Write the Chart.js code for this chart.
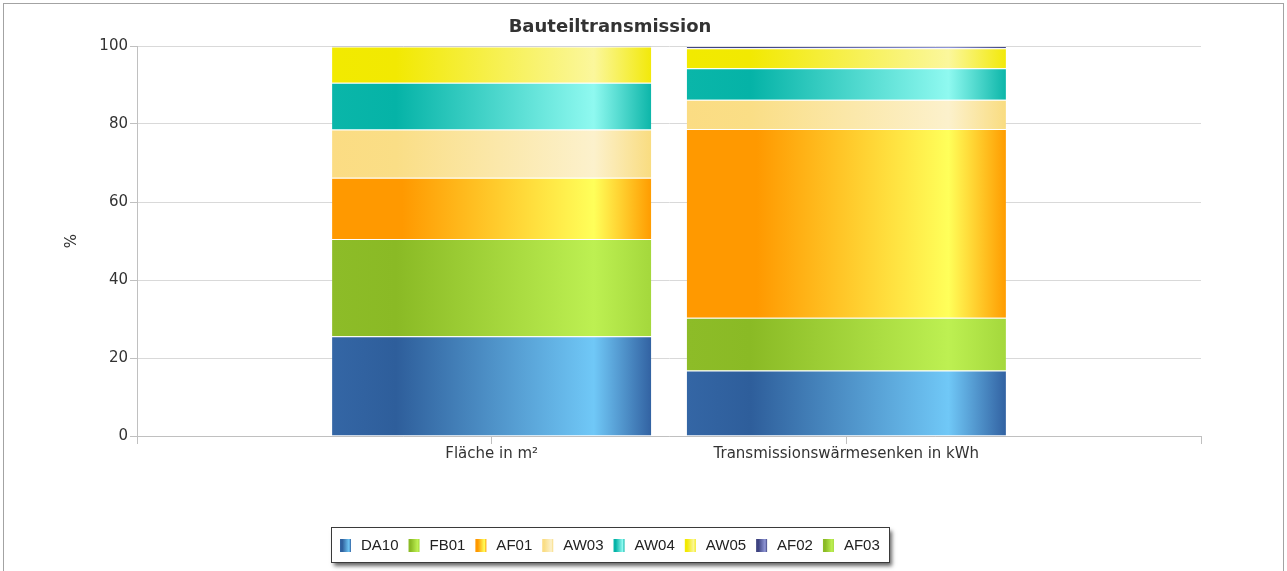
<!DOCTYPE html>
<html>
<head>
<meta charset="utf-8">
<script src="https://cdn.jsdelivr.net/npm/chart.js@4.4.1/dist/chart.umd.min.js"></script>
<style>
  html, body { margin: 0; padding: 0; background: #fff; }
  #frame { position: absolute; left: 3px; top: 3px; width: 1279px; height: 620px; border: 1px solid #a3a3a3; }
  #wrap { position: absolute; left: 0; top: 0; width: 1287px; height: 571px; }
</style>
</head>
<body>
<div id="frame"></div>
<div id="wrap"><canvas id="c" width="1287" height="571"></canvas></div>
<script>
// Categories and per-component percentage shares (each column sums to 100 %)
const categories = ['Fläche in m²', 'Transmissionswärmesenken in kWh'];
const seriesNames = ['DA10', 'FB01', 'AF01', 'AW03', 'AW04', 'AW05', 'AF02', 'AF03'];
const DA10 = [25.6, 16.8];
const FB01 = [24.9, 13.5];
const AF01 = [15.7, 48.4];
const AW03 = [12.4, 7.5];
const AW04 = [12.0, 8.1];
const AW05 = [9.3, 5.1];
const AF02 = [0.1, 0.6];
const AF03 = [0.0, 0.0];
const yTicks = [0, 20, 40, 60, 80, 100];

const seriesValues = [DA10, FB01, AF01, AW03, AW04, AW05, AF02, AF03];

// Horizontal "cylinder" shading for each component
const shading = {
  DA10: [[0, '#3466a5'], [0.2, '#2e5e9b'], [0.82, '#70c8f7'], [1, '#3262a2']],
  FB01: [[0, '#8dbc28'], [0.2, '#8aba25'], [0.82, '#bdf052'], [1, '#a4d83c']],
  AF01: [[0, '#ff9900'], [0.22, '#ff9900'], [0.82, '#ffff5a'], [1, '#ff9c00']],
  AW03: [[0, '#fbdc83'], [0.2, '#fade86'], [0.82, '#fcf1cc'], [1, '#f9dc80']],
  AW04: [[0, '#0ab6a9'], [0.2, '#05b3a7'], [0.82, '#8ff9f0'], [1, '#0db6a9']],
  AW05: [[0, '#f2ea00'], [0.2, '#f2e902'], [0.82, '#fbf79c'], [1, '#f2e90a']],
  AF02: [[0, '#434882'], [0.2, '#3c4180'], [0.82, '#9097d6'], [1, '#414682']],
  AF03: [[0, '#8dbc28'], [0.2, '#8aba25'], [0.82, '#bdf052'], [1, '#a4d83c']]
};

const BAR_PCT = 0.9;
const AXIS_FONT = '"DejaVu Sans", Verdana, sans-serif';
const LEGEND_FONT = '"Liberation Sans", Arial, sans-serif';

function makeGradient(ctx, x0, x1, stops) {
  const g = ctx.createLinearGradient(x0, 0, x1, 0);
  stops.forEach(([o, c]) => g.addColorStop(o, c));
  return g;
}

// one empty slot on each side of the two columns
const labels = ['', ...categories, ''];

const datasets = seriesNames.map((name, i) => ({
  label: name,
  data: [null, ...seriesValues[i], null],
  stack: 'all',
  borderWidth: { top: 1, bottom: 0, left: 0, right: 0 },
  borderColor: 'rgba(255,255,255,0.22)',
  borderSkipped: false,
  backgroundColor: (c) => {
    const stops = shading[name];
    const xs = c.chart.scales && c.chart.scales.x;
    if (!xs || typeof c.dataIndex !== 'number') return stops[1][1];
    const center = xs.getPixelForValue(c.dataIndex);
    const half = (xs.getPixelForValue(1) - xs.getPixelForValue(0)) * BAR_PCT / 2;
    if (!isFinite(center) || !isFinite(half) || half <= 0) return stops[1][1];
    return makeGradient(c.chart.ctx, center - half, center + half, stops);
  }
}));

const titlePlugin = {
  id: 'topTitle',
  afterDraw(chart) {
    const ctx = chart.ctx;
    ctx.save();
    ctx.font = 'bold 18px ' + AXIS_FONT;
    ctx.fillStyle = '#333333';
    ctx.textAlign = 'center';
    ctx.textBaseline = 'middle';
    ctx.fillText('Bauteiltransmission', 610, 27);
    ctx.restore();
  }
};

const legendPlugin = {
  id: 'boxedLegend',
  afterDraw(chart) {
    const ctx = chart.ctx;
    ctx.save();
    ctx.font = '15px ' + LEGEND_FONT;
    const sw = 11, sh = 13, gapA = 10, gapB = 10, padX = 9;
    const names = chart.data.datasets.map(d => d.label);
    const widths = names.map(n => ctx.measureText(n).width);
    const total = Math.round(padX * 2 + widths.reduce((s, w) => s + sw + gapA + w, 0) + gapB * (widths.length - 1));
    const top = 527, h = 35;
    const left = Math.round(610 - total / 2);

    ctx.shadowColor = 'rgba(0,0,0,0.6)';
    ctx.shadowOffsetX = 3;
    ctx.shadowOffsetY = 4;
    ctx.shadowBlur = 4;
    ctx.fillStyle = '#ffffff';
    ctx.fillRect(left, top, total, h);
    ctx.shadowColor = 'transparent';
    ctx.strokeStyle = '#3a3a3a';
    ctx.lineWidth = 1;
    ctx.strokeRect(left + 0.5, top + 0.5, total, h);

    let x = left + padX;
    const cy = top + h / 2 + 1;
    names.forEach((n, i) => {
      ctx.fillStyle = makeGradient(ctx, x, x + sw, shading[n]);
      ctx.fillRect(x, Math.round(cy - sh / 2), sw, sh);
      x += sw + gapA;
      ctx.fillStyle = '#222222';
      ctx.textAlign = 'left';
      ctx.textBaseline = 'middle';
      ctx.fillText(n, x, cy);
      x += widths[i] + gapB;
    });
    ctx.restore();
  }
};

new Chart(document.getElementById('c'), {
  type: 'bar',
  data: { labels, datasets },
  plugins: [titlePlugin, legendPlugin],
  options: {
    responsive: false,
    devicePixelRatio: 1,
    animation: false,
    categoryPercentage: 1,
    barPercentage: BAR_PCT,
    layout: { padding: { left: 59, top: 46, right: 86, bottom: 95 } },
    plugins: {
      legend: { display: false },
      title: { display: false },
      tooltip: { enabled: false }
    },
    scales: {
      x: {
        stacked: true,
        offset: false,
        afterFit: (s) => { s.height = 40; },
        grid: { display: true, offset: false, drawOnChartArea: false, drawTicks: true, tickLength: 8, tickColor: '#c0c0c0', lineWidth: 1 },
        border: { display: true, color: '#c0c0c0' },
        ticks: { autoSkip: false, maxRotation: 0, padding: 1, color: '#333333', font: { family: AXIS_FONT, size: 15 } }
      },
      y: {
        stacked: true,
        min: 0,
        max: 100,
        afterFit: (s) => { s.width = 78; },
        afterBuildTicks: (s) => { s.ticks = yTicks.map(v => ({ value: v })); },
        grid: { color: '#d9d9d9', tickColor: '#c0c0c0', tickLength: 7, lineWidth: 1 },
        border: { display: true, color: '#c0c0c0' },
        ticks: { padding: 2, color: '#333333', font: { family: AXIS_FONT, size: 15 } },
        title: { display: true, text: '%', color: '#333333', font: { family: AXIS_FONT, size: 15 }, padding: { top: 4, bottom: 4 } }
      }
    }
  }
});
</script>
</body>
</html>
